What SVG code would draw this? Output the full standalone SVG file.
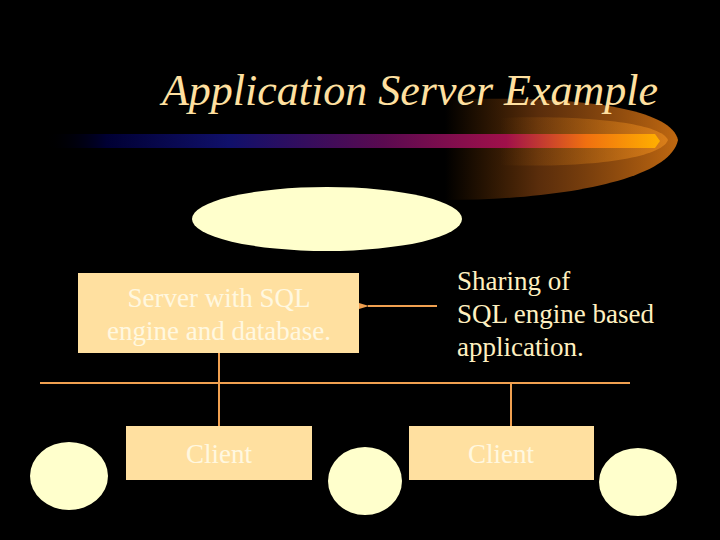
<svg xmlns="http://www.w3.org/2000/svg" width="720" height="540" viewBox="0 0 720 540">
<defs>
<linearGradient id="bar" x1="0" x2="1" y1="0" y2="0">
<stop offset="0" stop-color="#000" stop-opacity="0"/>
<stop offset="0.1" stop-color="#000033"/>
<stop offset="0.3" stop-color="#10106a"/>
<stop offset="0.55" stop-color="#5a0a50"/>
<stop offset="0.75" stop-color="#a0104a"/>
<stop offset="0.88" stop-color="#f07010"/>
<stop offset="1" stop-color="#ffb000"/>
</linearGradient>
<linearGradient id="glow" x1="0" x2="1" y1="0" y2="0">
<stop offset="0" stop-color="#804000" stop-opacity="0"/>
<stop offset="0.4" stop-color="#804010" stop-opacity="0.7"/>
<stop offset="1" stop-color="#c06810"/>
</linearGradient>
<linearGradient id="glow2" x1="0" x2="1" y1="0" y2="0">
<stop offset="0" stop-color="#e08010" stop-opacity="0"/>
<stop offset="1" stop-color="#f09020"/>
</linearGradient>
<marker id="ah" markerWidth="10" markerHeight="8" refX="1" refY="4" orient="auto" markerUnits="userSpaceOnUse"><path d="M10,1 L0,4 L10,7 z" fill="#f0a050"/></marker>
<style>
.box{fill:#ffe0a0}
.ell{fill:#ffffcc}
.ln{stroke:#f0a050;stroke-width:2;fill:none}
.t{font-family:"Liberation Serif",serif;font-size:27px;fill:#fff0c0}
.bt{font-family:"Liberation Serif",serif;font-size:27px;fill:#fff8e0;text-anchor:middle}
</style>
</defs>
<rect width="720" height="540" fill="#000"/>
<path d="M445,100 C560,95 670,105 678,140 C670,180 560,200 445,200 z" fill="url(#glow)"/>
<path d="M500,118 C580,115 660,122 668,140 C660,160 580,168 500,165 z" fill="url(#glow2)" opacity="0.6"/>
<path d="M45,134 L655,134 L660,141 L655,148 L45,148 z" fill="url(#bar)"/>
<text x="410" y="105" font-family="Liberation Serif,serif" font-style="italic" font-size="44" fill="#ffe0a0" text-anchor="middle">Application Server Example</text>
<g id="connectors">
<line class="ln" x1="40" y1="383" x2="630" y2="383"/>
<line class="ln" x1="219" y1="352" x2="219" y2="426"/>
<line class="ln" x1="511" y1="383" x2="511" y2="426"/>
<line class="ln" x1="437" y1="306" x2="368" y2="306" marker-end="url(#ah)"/>
</g>
<g id="top-ellipse"><ellipse class="ell" cx="327" cy="219" rx="135" ry="32"/></g>
<g id="server"><rect class="box" x="78" y="273" width="281" height="80"/>
<text class="bt" x="219" y="307">Server with SQL</text><text class="bt" x="219" y="340">engine and database.</text></g>
<g id="sharing"><text class="t" x="457" y="290">Sharing of</text><text class="t" x="457" y="323">SQL engine based</text><text class="t" x="457" y="356">application.</text></g>
<g id="client1"><rect class="box" x="126" y="426" width="186" height="54"/><text class="bt" x="219" y="463">Client</text></g>
<g id="client2"><rect class="box" x="409" y="426" width="185" height="54"/><text class="bt" x="501" y="463">Client</text></g>
<g id="e1"><ellipse class="ell" cx="69" cy="476" rx="39" ry="34"/></g>
<g id="e2"><ellipse class="ell" cx="365" cy="481" rx="37" ry="34"/></g>
<g id="e3"><ellipse class="ell" cx="638" cy="482" rx="39" ry="34"/></g>
</svg>
